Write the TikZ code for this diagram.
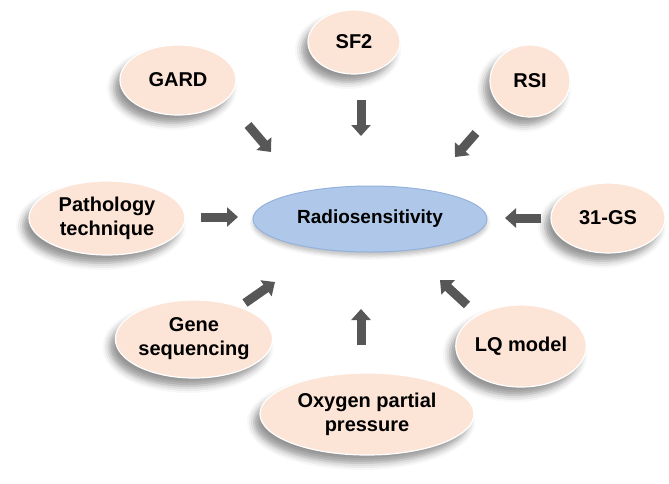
\documentclass[tikz,border=0pt]{standalone}
\usepackage{fontspec}
\setmainfont{Liberation Sans}
\usetikzlibrary{shapes.geometric,arrows.meta,shadows.blur}
\definecolor{peach}{HTML}{FCE4D6}
\definecolor{skyfill}{HTML}{AFC8E9}
\definecolor{skyrim}{HTML}{94B2DC}
\definecolor{arrowgray}{HTML}{575757}
\begin{document}
\begin{tikzpicture}[x=1pt,y=-1pt,
  factor/.style={ellipse, fill=peach, draw=white, line width=1.2pt, inner sep=0pt,
    align=center, font=\fontsize{20}{24}\selectfont\bfseries,
    blur shadow={shadow xshift=-6pt, shadow yshift=-8pt, shadow blur radius=7pt, shadow opacity=42}},
  hub/.style={ellipse, fill=skyfill, draw=skyrim, line width=1pt, inner sep=0pt,
    align=center, font=\fontsize{19}{23}\selectfont\bfseries,
    blur shadow={shadow xshift=0pt, shadow yshift=-4pt, shadow blur radius=4pt, shadow opacity=25}},
  bigarrow/.style={arrowgray, line width=9pt, -{Triangle[width=19pt,length=11pt]}}]
\useasboundingbox (0,0) rectangle (669,483);

\node[hub, minimum width=234pt, minimum height=66pt] (radio) at (370,219) {Radiosensitivity};
\node[factor, minimum width=116pt, minimum height=70pt] (gard) at (178,80) {GARD};
\node[factor, minimum width=92pt, minimum height=64pt] (sf2) at (354,42) {SF2};
\node[factor, minimum width=80pt, minimum height=72pt] (rsi) at (530,81) {RSI};
\node[factor, minimum width=114pt, minimum height=70pt] (gs) at (608,218) {31-GS};
\node[factor, minimum width=156pt, minimum height=74pt] (path) at (107,218) {Pathology\\technique};
\node[factor, minimum width=152pt, minimum height=78pt] (gene) at (194,339) {Gene\\sequencing};
\node[factor, minimum width=118pt, minimum height=82pt] (lq) at (521,346) {LQ model};
\node[factor, minimum width=214pt, minimum height=82pt] (oxy) at (367,414) {Oxygen partial\\pressure};

\coordinate (a1s) at (248,125); \coordinate (a1e) at (271,152);
\coordinate (a2s) at (361,100); \coordinate (a2e) at (361,136);
\coordinate (a3s) at (476,133); \coordinate (a3e) at (455,157);
\coordinate (a4s) at (201,217); \coordinate (a4e) at (238,217);
\coordinate (a5s) at (541,218); \coordinate (a5e) at (505,218);
\coordinate (a6s) at (245,303); \coordinate (a6e) at (275,282);
\coordinate (a7s) at (361,345); \coordinate (a7e) at (361,309);
\coordinate (a8s) at (467,305); \coordinate (a8e) at (440,280);

\draw[bigarrow] (a1s) -- (a1e);
\draw[bigarrow] (a2s) -- (a2e);
\draw[bigarrow] (a3s) -- (a3e);
\draw[bigarrow] (a4s) -- (a4e);
\draw[bigarrow] (a5s) -- (a5e);
\draw[bigarrow] (a6s) -- (a6e);
\draw[bigarrow] (a7s) -- (a7e);
\draw[bigarrow] (a8s) -- (a8e);
\end{tikzpicture}
\end{document}
